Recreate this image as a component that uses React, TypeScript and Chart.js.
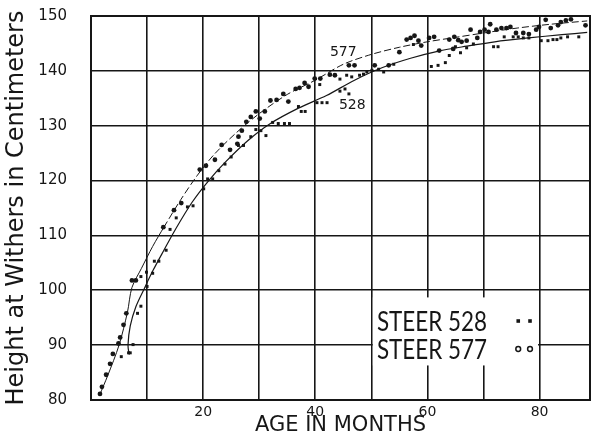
import React, { useEffect, useRef } from "react";
import { Chart, registerables } from "chart.js";

Chart.register(...registerables);

// ---- Data ----
const s577Months = [1.6, 1.95, 2.7, 3.4, 3.9, 4.9, 5.2, 5.8, 6.3, 7.3, 8.0, 12.9, 14.8, 16.1, 19.4, 20.5, 22.1, 23.3, 24.8, 26.1, 26.3, 26.9, 27.7, 28.5, 29.4, 30.1, 31.0, 32.0, 33.1, 34.3, 35.2, 36.5, 37.2, 38.1, 38.8, 39.9, 40.9, 42.6, 43.5, 46.0, 47.0, 50.6, 53.1, 55.0, 56.3, 57.0, 57.7, 58.4, 58.9, 60.3, 61.2, 62.1, 63.9, 64.6, 64.8, 65.5, 66.1, 67.0, 67.7, 68.9, 69.4, 70.2, 70.9, 71.2, 72.3, 73.2, 74.1, 74.8, 75.8, 77.1, 78.1, 79.4, 79.9, 81.1, 82.0, 83.3, 83.8, 84.7, 85.6, 88.2];
const s577Heights = [81.1, 82.4, 84.6, 86.6, 88.4, 90.3, 91.4, 93.7, 95.8, 101.8, 101.8, 111.5, 114.6, 115.9, 122.0, 122.7, 123.8, 126.5, 125.6, 126.7, 128.0, 129.1, 130.7, 131.6, 132.6, 131.3, 132.6, 134.6, 134.7, 135.8, 134.4, 136.7, 136.9, 137.8, 137.1, 138.6, 138.6, 139.3, 139.2, 141.0, 141.0, 141.0, 141.0, 143.4, 145.7, 146.0, 146.4, 145.5, 144.6, 146.0, 146.2, 143.7, 145.7, 144.0, 146.2, 145.6, 145.3, 145.5, 147.5, 146.0, 147.1, 147.5, 147.1, 148.5, 147.5, 147.8, 147.8, 148.0, 146.9, 146.9, 146.7, 147.5, 148.0, 149.3, 147.8, 148.3, 148.9, 149.2, 149.4, 148.3];

const s528Months = [5.4, 6.7, 7.0, 7.5, 8.3, 8.9, 8.9, 9.9, 10.0, 11.0, 11.3, 12.1, 13.4, 14.1, 15.2, 17.2, 18.2, 20.1, 20.8, 21.7, 22.8, 23.9, 25.0, 26.3, 27.2, 28.5, 29.4, 30.3, 31.2, 32.4, 33.4, 34.5, 35.4, 37.0, 37.5, 38.2, 40.3, 40.8, 41.2, 42.1, 44.4, 44.4, 45.3, 45.6, 46.0, 46.5, 47.9, 48.6, 49.2, 50.1, 51.3, 52.2, 54.0, 57.5, 60.7, 61.9, 63.2, 63.9, 65.0, 65.9, 67.0, 68.2, 71.8, 72.6, 73.7, 75.3, 76.2, 77.1, 78.1, 80.3, 81.5, 82.4, 83.1, 83.8, 85.0, 87.0];
const s528Heights = [87.9, 88.6, 88.6, 90.1, 95.8, 97.1, 102.5, 103.3, 100.7, 103.1, 105.3, 105.3, 107.3, 111.1, 113.2, 115.2, 115.4, 118.5, 120.3, 120.3, 121.8, 123.0, 124.3, 126.4, 126.4, 128.0, 129.3, 129.1, 128.2, 130.6, 130.4, 130.4, 130.4, 133.5, 132.6, 132.6, 134.2, 137.5, 134.2, 134.2, 138.5, 136.3, 136.7, 139.2, 135.8, 138.9, 139.2, 139.4, 139.8, 140.1, 140.3, 139.8, 141.2, 144.8, 140.8, 141.0, 141.5, 142.8, 144.4, 143.3, 144.2, 144.9, 144.4, 144.4, 146.2, 146.2, 146.2, 146.0, 146.0, 145.5, 145.5, 145.7, 145.7, 146.0, 146.2, 146.2];

// fitted curves drawn by hand on the original
const curve577Months = [1.5, 3, 5, 6.5, 7.3, 9, 11, 13, 16, 19, 22, 26, 30, 35, 40, 45, 50, 55, 60, 65, 70, 76, 82, 88.5];
const curve577Heights = [80.8, 84.5, 90, 96, 100.5, 104, 108, 111.5, 116.5, 121, 124.8, 128.8, 132.2, 135.7, 138.3, 141.2, 143, 144.3, 145.3, 146.1, 146.9, 147.8, 148.5, 149.1];
const curve528Months = [6.8, 6.6, 7, 8, 9.5, 11, 13, 15, 18, 21, 24, 28, 32, 37, 42, 47, 52, 57, 62, 67, 72, 78, 84, 88.5];
const curve528Heights = [88.3, 90, 93.5, 97, 100.3, 103.5, 107.3, 111, 116, 120, 123.4, 127.3, 130.4, 133.2, 135.5, 138.3, 140.6, 142.3, 143.6, 144.5, 145.3, 146, 146.6, 147];

const xGridValues = [0, 10, 20, 30, 40, 50, 60, 70, 80];
const xLabelValues = [20, 40, 60, 80];
const yTickValues = [80, 90, 100, 110, 120, 130, 140, 150];

const legendLabels = ["STEER 528", "STEER 577"];
const curveLabels = ["577", "528"];

const INK = "#161616";

const toPoints = (xs: number[], ys: number[]) => xs.map((x, i) => ({ x, y: ys[i] }));

const overlayPlugin = {
  id: "overlay",
  beforeDatasetsDraw(chart: any) {
    const { ctx, chartArea, scales } = chart;
    const x = scales.x;
    const y = scales.y;
    ctx.save();
    // legend box (white, hides grid)
    const bx0 = x.getPixelForValue(50) + 1.5;
    const bx1 = x.getPixelForValue(80) - 1.5;
    const by0 = y.getPixelForValue(98.7);
    const by1 = y.getPixelForValue(86.3);
    ctx.fillStyle = "#ffffff";
    ctx.fillRect(bx0, by0, bx1 - bx0, by1 - by0);

    // legend text
    ctx.fillStyle = INK;
    ctx.font = '27px Lato, "DejaVu Sans", sans-serif';
    ctx.textBaseline = "middle";
    ctx.textAlign = "left";
    const rows = [94.4, 89.3];
    legendLabels.forEach((t, i) => {
      const w = ctx.measureText(t).width;
      const sx = 110 / w;
      ctx.save();
      ctx.translate(x.getPixelForValue(51), y.getPixelForValue(rows[i]));
      ctx.scale(sx, 1);
      ctx.fillText(t, 0, 1);
      ctx.restore();
    });
    // legend markers
    const mx = [76.2, 78.3];
    mx.forEach((m) => {
      const px = x.getPixelForValue(m);
      const py = y.getPixelForValue(rows[0]);
      ctx.fillRect(px - 1.8, py - 1.8, 3.6, 3.6);
      const py2 = y.getPixelForValue(rows[1]);
      ctx.beginPath();
      ctx.lineWidth = 1.5;
      ctx.strokeStyle = INK;
      ctx.arc(px, py2, 2.4, 0, Math.PI * 2);
      ctx.stroke();
    });

    // frame
    ctx.strokeStyle = INK;
    ctx.lineWidth = 2;
    ctx.strokeRect(chartArea.left, chartArea.top, chartArea.right - chartArea.left, chartArea.bottom - chartArea.top);
    ctx.restore();
  },
  afterDatasetsDraw(chart: any) {
    const { ctx, scales } = chart;
    const x = scales.x;
    const y = scales.y;
    ctx.save();
    ctx.fillStyle = INK;
    ctx.font = '14px "DejaVu Sans", sans-serif';
    ctx.textAlign = "center";
    ctx.textBaseline = "middle";
    ctx.fillText(curveLabels[0], x.getPixelForValue(45), y.getPixelForValue(143.4));
    ctx.fillText(curveLabels[1], x.getPixelForValue(46.6), y.getPixelForValue(133.8));
    ctx.restore();
  },
};

export default function App() {
  const ref = useRef<HTMLCanvasElement | null>(null);
  useEffect(() => {
    if (!ref.current) return;
    const chart = new Chart(ref.current, {
      type: "scatter",
      data: {
        datasets: [
          {
            label: "curve 577",
            data: toPoints(curve577Months, curve577Heights),
            showLine: true,
            borderColor: INK,
            borderWidth: 1,
            pointRadius: 0,
            tension: 0.3,
            segment: {
              borderDash: (c: any) => (c.p0.parsed.x >= 12 ? [7, 3] : undefined),
            },
          } as any,
          {
            label: "curve 528",
            data: toPoints(curve528Months, curve528Heights),
            showLine: true,
            borderColor: INK,
            borderWidth: 1.2,
            pointRadius: 0,
            tension: 0.3,
          },
          {
            label: "Steer 577",
            data: toPoints(s577Months, s577Heights),
            pointStyle: "circle",
            pointRadius: 2.4,
            backgroundColor: INK,
            borderColor: INK,
            borderWidth: 0,
          },
          {
            label: "Steer 528",
            data: toPoints(s528Months, s528Heights),
            pointStyle: "rect",
            pointRadius: 2.1,
            backgroundColor: INK,
            borderColor: INK,
            borderWidth: 0,
          },
        ],
      },
      options: {
        animation: false,
        responsive: false,
        devicePixelRatio: 1,
        layout: { padding: { top: 16, right: 6, left: 0, bottom: 0 } },
        plugins: { legend: { display: false }, tooltip: { enabled: false } },
        scales: {
          x: {
            type: "linear",
            min: 0,
            max: 89,
            afterBuildTicks: (s: any) => {
              s.ticks = xGridValues.map((v) => ({ value: v }));
            },
            afterFit: (s: any) => {
              s.height = 38;
              s.paddingLeft = 0;
              s.paddingRight = 0;
            },
            grid: { color: INK, lineWidth: 1.6, drawTicks: false },
            border: { color: INK, width: 2 },
            ticks: {
              color: INK,
              padding: 4,
              maxRotation: 0,
              autoSkip: false,
              font: { family: "DejaVu Sans", size: 14 },
              callback: (v: any) => (xLabelValues.includes(Number(v)) ? String(v) : ""),
            },
            title: {
              display: true,
              text: "AGE IN MONTHS",
              color: INK,
              font: { family: "DejaVu Sans", size: 21 },
              padding: { top: 0, bottom: 0 },
            },
          },
          y: {
            type: "linear",
            min: 80,
            max: 150,
            afterBuildTicks: (s: any) => {
              s.ticks = yTickValues.map((v) => ({ value: v }));
            },
            afterFit: (s: any) => {
              s.width = 91;
              s.paddingTop = 0;
              s.paddingBottom = 0;
            },
            grid: { color: INK, lineWidth: 1.6, drawTicks: false },
            border: { color: INK, width: 2 },
            ticks: {
              color: INK,
              padding: 24,
              font: { family: "DejaVu Sans", size: 15 },
            },
            title: {
              display: true,
              text: "Height at Withers in Centimeters",
              color: INK,
              font: { family: "DejaVu Sans", size: 24 },
              padding: { top: 2, bottom: 0 },
            },
          },
        },
      },
      plugins: [overlayPlugin],
    });
    return () => chart.destroy();
  }, []);
  return (
    <div style={{ position: "fixed", left: 0, top: 0, background: "#fff" }}>
      <canvas ref={ref} width={596} height={438} style={{ display: "block" }} />
    </div>
  );
}
